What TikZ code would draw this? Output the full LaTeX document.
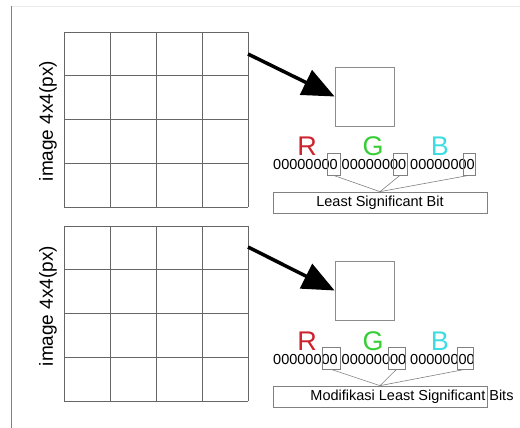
\documentclass[tikz,border=0pt]{standalone}
\usepackage{fontspec}
\setmainfont{Liberation Sans}
\usetikzlibrary{arrows.meta}

\definecolor{rojo}{RGB}{205,35,45}
\definecolor{verde}{RGB}{55,205,55}
\definecolor{cian}{RGB}{60,220,225}

\tikzset{
    rejilla/.style={draw=black!60, line width=0.9pt},
    pixel/.style={draw=black!45, line width=0.8pt, minimum size=59pt, inner sep=0pt},
    bitbox/.style={draw=black!50, line width=0.7pt, minimum height=22pt, inner sep=0pt},
    lsbbox/.style={draw=black!50, line width=0.7pt, minimum width=214pt, minimum height=21pt, inner sep=0pt},
    enlace/.style={draw=black!50, line width=0.6pt},
    flecha/.style={line width=3.5pt, -{Triangle[length=32pt,width=27pt]}},
    canal/.style={font=\fontsize{27}{30}\selectfont, inner sep=0pt},
    bits/.style={font=\fontsize{14.5}{16}\selectfont, inner sep=0pt},
    rotulo/.style={font=\fontsize{19}{22}\selectfont, rotate=90, inner sep=0pt}
}

\begin{document}
\begin{tikzpicture}[x=1pt, y=-1pt]

    % Marco de la hoja
    \useasboundingbox (0,0) rectangle (520,428);
    \draw[black!8, line width=0.6pt] (11,6) -- (520,6);
    \draw[black!50, line width=0.8pt] (11,6) -- (11,428);

    % Rejillas de 4x4 pixeles
    \foreach \y/\h in {32/175, 226/175} {
        \foreach \i in {0,1,2,3,4}
            \draw[rejilla] (64+46*\i, \y) -- (64+46*\i, \y+\h);
        \foreach \j in {0,1,2,3,4}
            \draw[rejilla] (64, \y+\h/4*\j) -- (248, \y+\h/4*\j);
    }

    % Rotulos de las rejillas
    \node[rotulo] (img1) at (48,121) {image 4x4(px)};
    \node[rotulo] (img2) at (48,306) {image 4x4(px)};

    % Primer bloque: LSB
    \coordinate (g1) at (248,54);
    \node[pixel] (pix1) at (364.5,96.5) {};
    \draw[flecha] (g1) -- (pix1.west);

    \node[canal, text=rojo]  (r1) at (307,146) {R};
    \node[canal, text=verde] (v1) at (373,146) {G};
    \node[canal, text=cian]  (a1) at (440,146) {B};
    \node[bits] (n1) at (374,165) {00000000 00000000 00000000};

    \node[bitbox, minimum width=13pt] (b11) at (333.5,164) {};
    \node[bitbox, minimum width=14pt] (b12) at (400,164) {};
    \node[bitbox, minimum width=12pt] (b13) at (469,164) {};

    \node[lsbbox] (lsb1) at (380,202.5) {};
    \node[bits] (t1) at (lsb1) {Least Significant Bit};
    \foreach \b in {b11,b12,b13}
        \draw[enlace] (\b.south) -- (lsb1.north);

    % Segundo bloque: LSB modificado
    \coordinate (g2) at (248,247);
    \node[pixel] (pix2) at (364.5,290.5) {};
    \draw[flecha] (g2) -- (pix2.west);

    \node[canal, text=rojo]  (r2) at (307,341) {R};
    \node[canal, text=verde] (v2) at (373,341) {G};
    \node[canal, text=cian]  (a2) at (440,341) {B};
    \node[bits] (n2) at (374,360) {00000000 00000000 00000000};

    \node[bitbox, minimum width=18pt] (b21) at (331,358) {};
    \node[bitbox, minimum width=17pt] (b22) at (396.5,358) {};
    \node[bitbox, minimum width=16pt] (b23) at (465,358) {};

    \node[lsbbox] (lsb2) at (380,396.5) {};
    \node[bits] (t2) at (412,397) {Modifikasi Least Significant Bits};
    \foreach \b in {b21,b22,b23}
        \draw[enlace] (\b.south) -- (lsb2.north);

\end{tikzpicture}
\end{document}
